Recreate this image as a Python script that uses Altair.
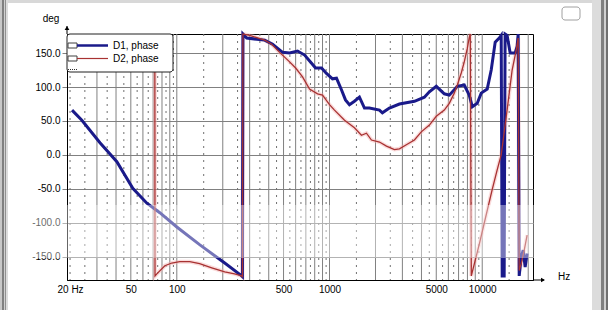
import altair as alt
import pandas as pd

SERIES = ["D1, phase", "D2, phase"]
COLORS = ["#1a1a8a", "#a83232"]

D1_FREQ = [20.6, 23.9, 31.4, 40.5, 51.5, 63.7, 77.4, 100, 141, 206,
           266, 269, 271, 287, 376, 424, 493, 548, 618, 687,
           763, 810, 887, 955, 1046, 1111, 1197, 1272, 1351, 1456,
           1570, 1694, 1825, 2123, 2220, 2466, 2870, 3598, 4180, 4508,
           5002, 5645, 6086, 6870, 7626, 8222, 8608, 9275, 9846, 10780,
           11450, 12160, 12920, 13310, 13510, 13920, 14120, 14550, 15240, 16430,
           16940, 17190, 17460, 17990, 18540, 19100, 19680]
D1_PHASE = [66, 51, 18, -10, -49, -71, -85, -106, -132, -159,
            -178, -179, 178, 172, 169, 163, 151, 150, 153, 147,
            135, 128, 128, 120, 112, 113, 96, 81, 74, 79,
            85, 69, 69, 66, 62, 69, 75, 79, 85, 93,
            101, 90, 88, 101, 103, 88, 71, 76, 91, 97,
            125, 166, 172, 176, -178, -178, 178, 176, 150, 150,
            160, 178, -178, -150, -140, -165, -145]

D2_FREQ = [71.8, 72.0, 74.0, 83.5, 92.7, 104.6, 121.6, 141, 169.4, 206,
           239, 266, 269, 271, 300, 376, 418, 471, 548, 600,
           666, 740, 835, 900, 1000, 1078, 1254, 1456, 1618, 1745,
           1882, 2123, 2360, 2660, 2870, 3185, 3598, 3990, 4508, 5002,
           5645, 6086, 6557, 6870, 7296, 7626, 7975, 8222, 8350, 8480,
           9550, 10620, 11620, 12530, 13310, 14550, 15700, 16680, 17190, 17460,
           17990, 18840, 19680]
D2_PHASE = [178, -178, -175, -163, -159, -157, -157, -160, -166, -172,
            -175, -178, -179, 178, 176, 169, 163, 151, 137, 128,
            115, 97, 90, 88, 74, 66, 51, 40, 29, 32,
            22, 19, 13, 8, 9, 15, 22, 34, 44, 57,
            66, 76, 91, 103, 121, 137, 156, 173, 178, -178,
            -132, -88, -51, -22, 0, 66, 125, 154, 172, -170,
            -160, -140, -118]

SOLID_GRID = [30, 40, 50, 60, 70, 80, 90, 100, 200, 300, 400, 500, 600, 700, 800, 900,
              1000, 2000, 3000, 4000, 5000, 6000, 7000, 8000, 9000, 10000, 20000]
DOTTED_GRID = [20, 25, 35, 45, 55, 65, 75, 85, 95, 150, 250, 350, 450, 550, 650, 750, 850, 950,
               1500, 2500, 3500, 4500, 5500, 6500, 7500, 8500, 9500, 15000]
X_LABELS = [20, 50, 100, 500, 1000, 5000, 10000]
Y_TICKS = [-150, -100, -50, 0, 50, 100, 150]

FONT = "Liberation Sans"
L, T = 67, 34  # plot origin inside the 608x310 window

d1 = pd.DataFrame({"f": D1_FREQ, "p": D1_PHASE, "i": range(len(D1_FREQ))})
d2 = pd.DataFrame({"f": D2_FREQ, "p": D2_PHASE, "i": range(len(D2_FREQ))})

xscale = alt.Scale(type="log", domain=[19.1, 21500], nice=False)
yscale = alt.Scale(domain=[-184, 178], nice=False, zero=False)
xaxis = alt.Axis(values=X_LABELS, title=None, grid=False, ticks=False, domainColor="black",
                 labelExpr="datum.value == 20 ? '20 Hz' : format(datum.value, 'd')",
                 labelFont=FONT, labelFontSize=10, labelColor="black", labelPadding=4,
                 labelFlush=False, labelOverlap=False)
yaxis = alt.Axis(values=Y_TICKS, title=None, grid=True, gridColor="#808080", gridWidth=1,
                 tickColor="#808080", tickSize=5, domainColor="black",
                 labelExpr="datum.value < 0 ? '-' + format(-datum.value, '.1f') : format(datum.value, '.1f')",
                 labelFont=FONT, labelFontSize=10, labelColor="black", labelPadding=2)
X = alt.X("f:Q", scale=xscale, axis=xaxis)
Y = alt.Y("p:Q", scale=yscale, axis=yaxis)

solid = alt.Chart(pd.DataFrame({"f": SOLID_GRID})).mark_rule(color="#808080", strokeWidth=1).encode(x=X)
dotted = alt.Chart(pd.DataFrame({"f": DOTTED_GRID})).mark_rule(
    color="#707070", strokeWidth=1, strokeDash=[2, 5]).encode(x=X)

halo = alt.Chart(d2).mark_line(color="#f3b0b0", strokeWidth=4, opacity=0.45).encode(
    x=X, y=Y, order=alt.Order("i:Q"))
line1 = alt.Chart(d1).mark_line(color=COLORS[0], strokeWidth=3).encode(
    x=X, y=Y, order=alt.Order("i:Q"))
line2 = alt.Chart(d2).mark_line(color=COLORS[1], strokeWidth=1.3).encode(
    x=X, y=Y, order=alt.Order("i:Q"))

ONE = alt.Data(values=[{}])


def rect(x1, x2, y1, y2, fill, stroke=None, corner=0, opacity=1.0):
    kw = dict(fill=fill, cornerRadius=corner, opacity=opacity)
    if stroke:
        kw.update(stroke=stroke, strokeWidth=1)
    return alt.Chart(ONE).mark_rect(**kw).encode(
        x=alt.value(x1 - L), x2=alt.value(x2 - L), y=alt.value(y1 - T), y2=alt.value(y2 - T))


def hrule(x1, x2, y, color, width, dash=None):
    kw = dict(color=color, strokeWidth=width)
    if dash:
        kw["strokeDash"] = dash
    return alt.Chart(ONE).mark_rule(**kw).encode(
        x=alt.value(x1 - L), x2=alt.value(x2 - L), y=alt.value(y - T))


def text(x, y, s, align="left", size=10):
    return alt.Chart(ONE).mark_text(text=s, align=align, baseline="middle", font=FONT,
                                    fontSize=size, color="black").encode(
        x=alt.value(x - L), y=alt.value(y - T))


band = rect(0, 608, 205, 258, "white", opacity=0.4)

# axis arrows and titles
yext = alt.Chart(ONE).mark_rule(color="black").encode(
    x=alt.value(0), y=alt.value(26 - T), y2=alt.value(0))
yarrow = alt.Chart(ONE).mark_point(shape="triangle-up", filled=True, color="black", size=22, opacity=1).encode(
    x=alt.value(0), y=alt.value(28 - T))
xext = hrule(533, 544, 280, "black", 1)
xarrow = alt.Chart(ONE).mark_point(shape="triangle-right", filled=True, color="black", size=22, opacity=1).encode(
    x=alt.value(543 - L), y=alt.value(280 - T))
deg_t = text(51, 19, "deg", align="center")
hz_t = text(558, 277, "Hz")

# legend
leg = [
    rect(67, 173, 34, 72, "white", stroke="#202020", corner=3),
    rect(68, 77, 43, 48, "white", stroke="#404040"),
    rect(68, 77, 56, 61, "white", stroke="#404040"),
    hrule(77, 108, 45.5, COLORS[0], 2.5),
    hrule(77, 108, 58.5, COLORS[1], 1.2),
    text(113, 45.5, SERIES[0]),
    text(113, 58.5, SERIES[1]),
    hrule(68, 78, 69.5, "#303030", 1, dash=[1, 1]),
]

# window frame decoration
frame = [
    rect(0, 592, 0, 3, "#d8d8d8"),
    rect(0, 2, 0, 310, "#c8c8c8"),
    rect(2, 4, 0, 310, "#808080"),
    rect(4, 5, 0, 310, "#d0d0d0"),
    rect(5, 6, 0, 310, "#909090"),
    rect(6, 8, 0, 310, "#dcdcdc"),
    rect(592, 601, 0, 310, "#dcdcdc"),
    rect(601, 604, 0, 310, "#808080"),
    rect(604, 606, 0, 310, "#d0d0d0"),
    rect(606, 608, 0, 310, "#707070"),
    rect(562, 580, 7, 20, "white", stroke="#a0a0a0", corner=3),
]

chart = alt.layer(
    solid, dotted, halo, line1, line2, band, yext, yarrow, xext, xarrow, deg_t, hz_t,
    *leg, *frame
).properties(
    width=466, height=246,
    autosize=alt.AutoSizeParams(type="none"),
    padding={"left": 67, "top": 34, "right": 75, "bottom": 30},
    background="white",
).configure_view(stroke="black", strokeWidth=1)

chart.save("out.html", embed_options={"renderer": "svg", "actions": False})
